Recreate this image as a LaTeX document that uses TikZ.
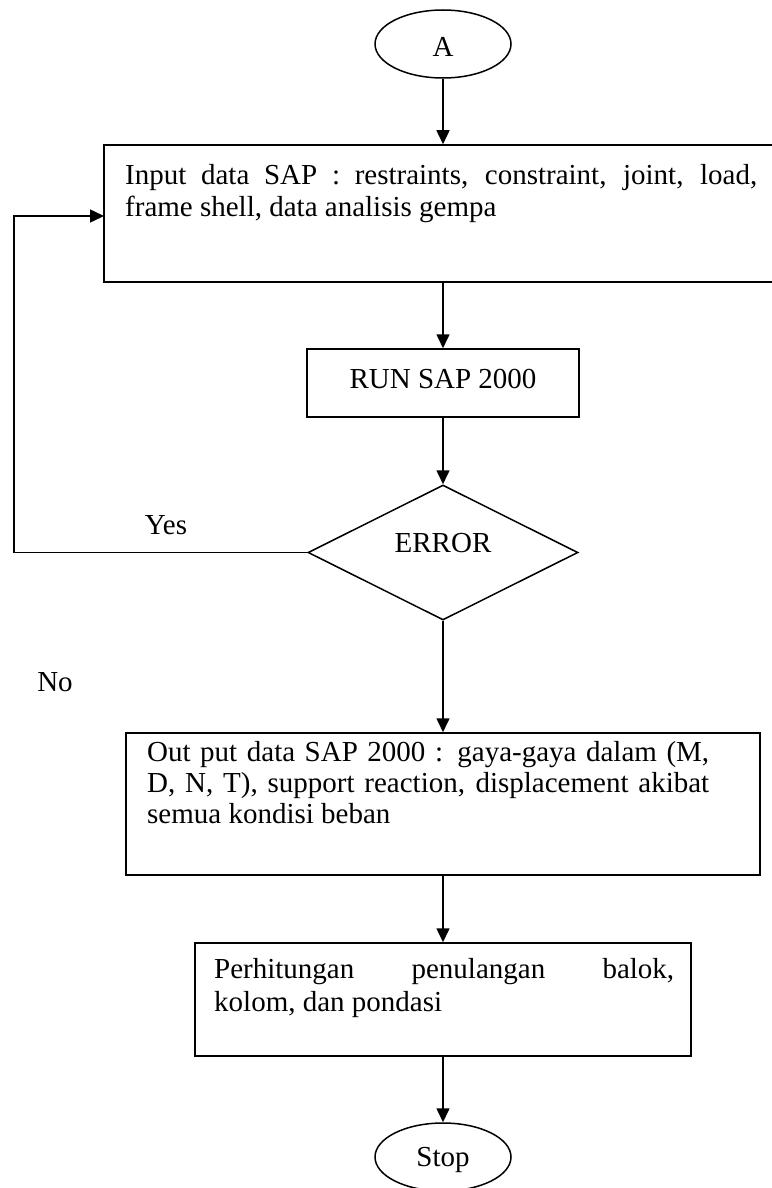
\documentclass[tikz,border=0pt]{standalone}
\usepackage{fontspec}
\setmainfont{Liberation Serif}
\usetikzlibrary{shapes.geometric,arrows.meta}
\begin{document}
\begin{tikzpicture}[x=1pt,y=-1pt,
  every node/.style={font=\fontsize{29}{31}\selectfont},
  line/.style={line width=1.5pt},
  arr/.style={line, -{Triangle[length=14pt,width=13pt]}},
  box/.style={draw, line width=1.5pt, rectangle, inner sep=0pt},
  oval/.style={draw, line width=1.5pt, ellipse, inner sep=0pt, minimum width=136pt, minimum height=68pt},
  decision/.style={draw, line width=1.5pt, diamond, inner sep=0pt, minimum width=270pt, minimum height=135pt},
  lbl/.style={inner sep=0pt, anchor=base},
  txt/.style={inner sep=0pt, anchor=base west}]
\useasboundingbox (0,0) rectangle (771,1188);
% shapes
\node[oval] (A) at (443,44) {};
\node[box, minimum width=673pt, minimum height=137pt] (box1) at (440.5,213.5) {};
\node[box, minimum width=272pt, minimum height=68pt] (run) at (443,383) {};
\node[decision] (err) at (443,552.5) {};
\node[box, minimum width=634pt, minimum height=142pt] (box3) at (443,804) {};
\node[box, minimum width=496pt, minimum height=113pt] (box4) at (443,999.5) {};
\node[oval] (stop) at (443,1157) {};
% texts
\node[lbl] (Atext) at (443,57) {A};
\node[txt] (in1) at (125,184) {\makebox[632pt][s]{Input data SAP : restraints, constraint, joint, load,}};
\node[txt] (in2) at (125,216) {frame shell, data analisis gempa};
\node[lbl] (runtext) at (443,388) {RUN SAP 2000};
\node[lbl] (errtext) at (443,552) {ERROR};
\node[lbl] (yes) at (166,534) {Yes};
\node[lbl] (no) at (55,691) {No};
\node[txt] (out1) at (147,761) {\makebox[562pt][s]{Out put data SAP 2000 : gaya-gaya dalam (M,}};
\node[txt] (out2) at (147,792) {\makebox[562pt][s]{D, N, T), support reaction, displacement akibat}};
\node[txt] (out3) at (147,823) {semua kondisi beban};
\node[txt] (hit1) at (214,978) {\makebox[460pt][s]{Perhitungan penulangan balok,}};
\node[txt] (hit2) at (214,1011) {kolom, dan pondasi};
\node[lbl] (stoptext) at (443,1166) {Stop};
% connectors
\coordinate (corner) at (14,552.5);
\coordinate (loopin) at (104,216);
\draw[arr] (A.south) -- (A.south |- box1.north);
\draw[arr] (run.north |- box1.south) -- (run.north);
\draw[arr] (run.south) -- (err.north);
\draw[arr] (err.south) -- (box3.north);
\draw[arr] (box3.south) -- (box4.north);
\draw[arr] (box4.south) -- (stop.north);
\draw[arr] (err.west) -- (corner) |- (loopin);
\end{tikzpicture}
\end{document}
